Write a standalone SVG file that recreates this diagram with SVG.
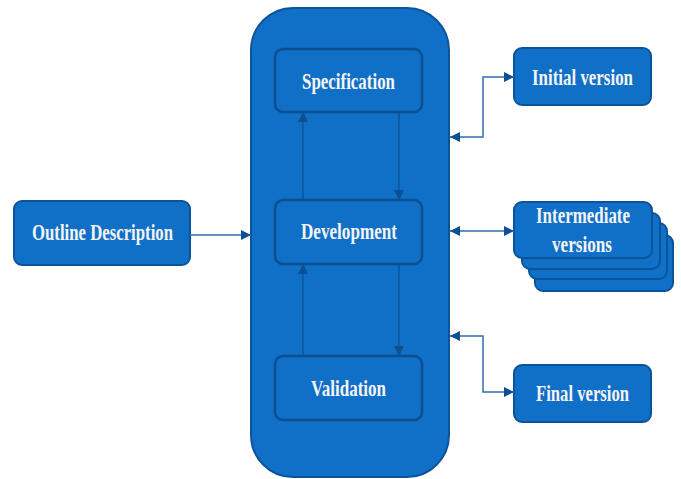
<svg xmlns="http://www.w3.org/2000/svg" width="681" height="479" viewBox="0 0 681 479">
<defs>
<style>
.box{fill:#106FC7;stroke:#0C549A;stroke-width:2}
.inner{fill:#106FC7;stroke:#0B4F90;stroke-width:2.5}
.lbl{font-family:"Liberation Serif","Times New Roman",serif;font-weight:bold;font-size:23px;fill:#F4F4F4;text-anchor:middle}
.con{fill:none;stroke:#2F6EAE;stroke-width:1.5}
.icon{fill:none;stroke:#0B4F90;stroke-width:1.2}
</style>
<marker id="ah" viewBox="0 0 10 10" refX="10" refY="5" markerWidth="10" markerHeight="10" markerUnits="userSpaceOnUse" orient="auto-start-reverse">
<path d="M0,0 L10,5 L0,10 Z" fill="#0C4F92"/>
</marker>
</defs>
<rect width="681" height="479" fill="#FFFFFF"/>
<g id="container">
<rect class="box" x="251" y="8" width="198" height="469" rx="42" ry="42"/>
</g>
<g id="specification">
<rect class="inner" x="275" y="49" width="147" height="63" rx="8"/>
<text class="lbl" x="348.5" y="89" textLength="93" lengthAdjust="spacingAndGlyphs">Specification</text>
</g>
<g id="development">
<rect class="inner" x="275" y="200" width="147" height="64" rx="8"/>
<text class="lbl" x="349" y="239" textLength="96" lengthAdjust="spacingAndGlyphs">Development</text>
</g>
<g id="validation">
<rect class="inner" x="275" y="356" width="147" height="64" rx="8"/>
<text class="lbl" x="348.5" y="396" textLength="75" lengthAdjust="spacingAndGlyphs">Validation</text>
</g>
<g id="outline">
<rect class="box" x="14" y="201" width="176" height="64" rx="8"/>
<text class="lbl" x="102.5" y="240" textLength="141" lengthAdjust="spacingAndGlyphs">Outline Description</text>
</g>
<g id="initial">
<rect class="box" x="514" y="48" width="137" height="57" rx="8"/>
<text class="lbl" x="582.5" y="85" textLength="101" lengthAdjust="spacingAndGlyphs">Initial version</text>
</g>
<g id="intermediate">
<rect class="box" x="535" y="235" width="138" height="56" rx="8"/>
<rect class="box" x="529" y="223" width="138" height="56" rx="8"/>
<rect class="box" x="522" y="213" width="138" height="56" rx="8"/>
<rect class="box" x="514" y="202" width="138" height="56" rx="8"/>
<text class="lbl" x="583" y="223" textLength="94" lengthAdjust="spacingAndGlyphs">Intermediate</text>
<text class="lbl" x="582" y="252" textLength="60" lengthAdjust="spacingAndGlyphs">versions</text>
</g>
<g id="final">
<rect class="box" x="514" y="365" width="137" height="57" rx="8"/>
<text class="lbl" x="582.5" y="401" textLength="93" lengthAdjust="spacingAndGlyphs">Final version</text>
</g>
<g id="connectors">
<path class="icon" d="M303,200 L303,112" marker-end="url(#ah)"/>
<path class="icon" d="M399,112 L399,200" marker-end="url(#ah)"/>
<path class="icon" d="M303,356 L303,264" marker-end="url(#ah)"/>
<path class="icon" d="M399,264 L399,356" marker-end="url(#ah)"/>
<path class="con" d="M190,235 L251,235" marker-end="url(#ah)"/>
<path class="con" d="M450,137 L483,137 L483,77 L514,77" marker-start="url(#ah)" marker-end="url(#ah)"/>
<path class="con" d="M450,231 L514,231" marker-start="url(#ah)" marker-end="url(#ah)"/>
<path class="con" d="M450,336 L483,336 L483,392 L514,392" marker-start="url(#ah)" marker-end="url(#ah)"/>
</g>
</svg>
